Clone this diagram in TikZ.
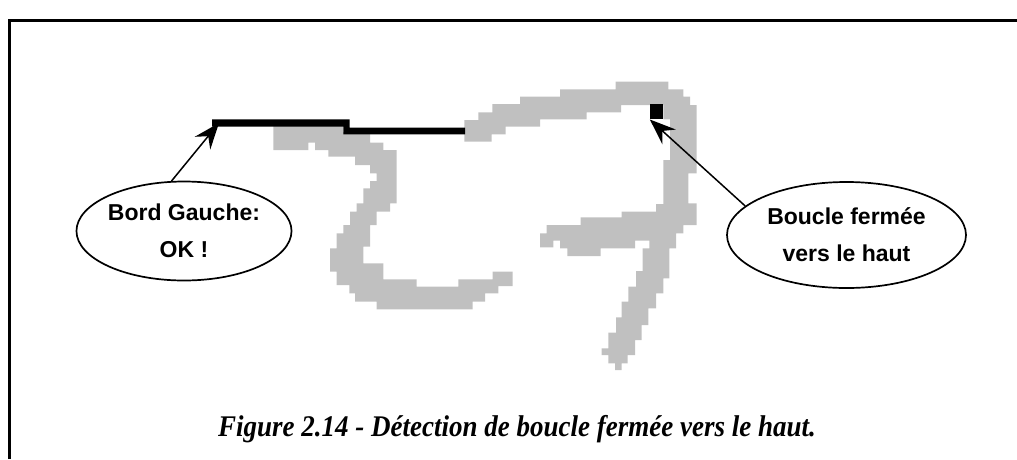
\documentclass[tikz,border=0pt]{standalone}
\usepackage{fontspec}
\setmainfont{Liberation Serif}
\newfontfamily\labelfont{Liberation Sans}
\usetikzlibrary{shapes.geometric,arrows.meta}
\definecolor{strokegray}{RGB}{192,192,192}
\begin{document}
\begin{tikzpicture}[x=1pt,y=-1pt,
  bubble/.style={ellipse,draw,line width=1.7pt,inner sep=0pt,align=center,
    font=\labelfont\bfseries\fontsize{23}{37}\selectfont},
  pointer/.style={-{Stealth[length=26pt,width=20pt,inset=9pt]},line width=1.5pt},
  pixels/.style={fill=strokegray},
  frameline/.style={line width=2.5pt}]
\useasboundingbox (0,0) rectangle (1017,459);

% page frame
\draw[frameline] (9.5,459) -- (9.5,20.5) -- (1017,20.5);

% handwritten stroke, left part ("2"-like curve)
\fill[pixels] (273.3,126) -- (343,126) -- (343,132) -- (370,132) -- (370,142.7)
  -- (383.3,142.7) -- (383.3,150) -- (396.7,150) -- (396.7,203.3) -- (390,203.3)
  -- (390,211.7) -- (376.7,211.7) -- (376.7,225) -- (370,225) -- (370,246.7)
  -- (363.3,246.7) -- (363.3,263.3) -- (383.3,263.3) -- (383.3,279.3)
  -- (416.7,279.3) -- (416.7,286.7) -- (458.3,286.7) -- (458.3,279.3)
  -- (492.7,279.3) -- (492.7,271.7) -- (512.7,271.7) -- (512.7,286)
  -- (498.3,286) -- (498.3,293.3) -- (485,293.3) -- (485,301.7) -- (472.7,301.7)
  -- (472.7,309.3) -- (376.7,309.3) -- (376.7,301.7) -- (355,301.7)
  -- (355,293.3) -- (349.3,293.3) -- (349.3,285) -- (336.7,285) -- (336.7,271.7)
  -- (330,271.7) -- (330,248.3) -- (336.7,248.3) -- (336.7,233.3)
  -- (343.3,233.3) -- (343.3,225) -- (350,225) -- (350,211.7) -- (356.7,211.7)
  -- (356.7,203.3) -- (363.3,203.3) -- (363.3,188.3) -- (370,188.3)
  -- (370,181) -- (376.7,181) -- (376.7,173.3) -- (370,173.3) -- (370,165)
  -- (355,165) -- (355,156.7) -- (328.3,156.7) -- (328.3,150) -- (315,150)
  -- (315,142.7) -- (308.3,142.7) -- (308.3,150) -- (273.3,150) -- cycle;

% handwritten stroke, right part ("7"-like hook)
\fill[pixels] (464.3,120) -- (478.3,120) -- (478.3,112.3) -- (492.3,112.3)
  -- (492.3,104) -- (520,104) -- (520,96.7) -- (560,96.7) -- (560,89.3)
  -- (615.7,89.3) -- (615.7,81.7) -- (668.3,81.7) -- (668.3,89.3)
  -- (683.3,89.3) -- (683.3,96.7) -- (690,96.7) -- (690,105) -- (696.7,105)
  -- (696.7,173.3) -- (688.3,173.3) -- (688.3,203.3) -- (696.7,203.3)
  -- (696.7,225) -- (683.3,225) -- (683.3,233.3) -- (676,233.3) -- (676,248.3)
  -- (669.3,248.3) -- (669.3,278.3) -- (663.3,278.3) -- (663.3,293.3)
  -- (656,293.3) -- (656,308.3) -- (648.3,308.3) -- (648.3,325) -- (641.7,325)
  -- (641.7,340) -- (635,340) -- (635,355) -- (627.7,355) -- (627.7,363.3)
  -- (621.7,363.3) -- (621.7,370) -- (615,370) -- (615,363.3) -- (608.3,363.3)
  -- (608.3,355) -- (601.7,355) -- (601.7,348.3) -- (608.3,348.3)
  -- (608.3,332.7) -- (616,332.7) -- (616,317.3) -- (621.7,317.3)
  -- (621.7,301.7) -- (628.3,301.7) -- (628.3,286.7) -- (636,286.7)
  -- (636,271) -- (642.7,271) -- (642.7,248.3) -- (649.3,248.3)
  -- (649.3,240.7) -- (635,240.7) -- (635,248.3) -- (600.7,248.3)
  -- (600.7,256) -- (567.3,256) -- (567.3,248.3) -- (560,248.3)
  -- (560,240.7) -- (553.3,240.7) -- (553.3,247.3) -- (540,247.3)
  -- (540,233.3) -- (546.7,233.3) -- (546.7,225) -- (580.7,225)
  -- (580.7,217.3) -- (621.7,217.3) -- (621.7,211.7) -- (656,211.7)
  -- (656,204) -- (663.3,204) -- (663.3,160) -- (670,160) -- (670,119.3)
  -- (663.3,119.3) -- (663.3,105) -- (621,105) -- (621,112.3)
  -- (586.7,112.3) -- (586.7,119.3) -- (540,119.3) -- (540,126.7)
  -- (505.7,126.7) -- (505.7,134.3) -- (491.7,134.3) -- (491.7,141.7)
  -- (464.3,141.7) -- cycle;

% detected left edge (thick black trace)
\fill (212,119.3) -- (349.5,119.3) -- (349.5,127.7) -- (465,127.7)
  -- (465,134.3) -- (343.3,134.3) -- (343.3,126.7) -- (212,126.7) -- cycle;
\coordinate (edgestart) at (219,123);

% closing point of the loop
\node[fill=black,inner sep=0pt,minimum width=13.3pt,minimum height=15pt] (sq) at (656.7,111.8) {};

% callouts
\node[bubble,minimum width=214pt,minimum height=99pt] (bg) at (184,231) {Bord Gauche:\\OK !};
\node[bubble,minimum width=239pt,minimum height=106pt] (bf) at (846.5,235) {Boucle fermée\\vers le haut};

\draw[pointer] (bg.104) -- (edgestart);
\draw[pointer] (bf.164) -- (sq.south west);

% caption, set in a slightly condensed bold italic
\node[xscale=0.9] (cap) at (517,429) {\fontsize{30}{33}\selectfont\bfseries\itshape Figure 2.14 - Détection de boucle fermée vers le haut.};
\end{tikzpicture}
\end{document}
